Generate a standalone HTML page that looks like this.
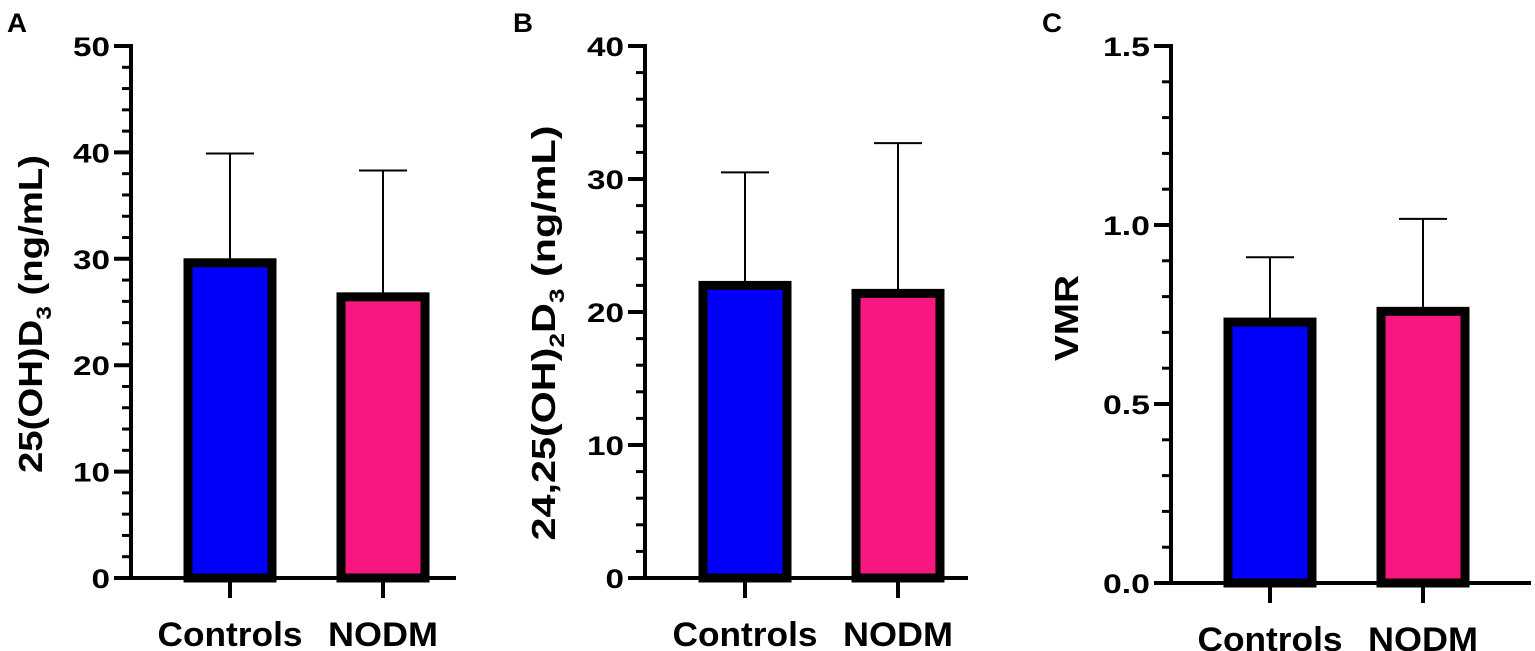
<!DOCTYPE html>
<html><head><meta charset="utf-8"><style>
html,body{margin:0;padding:0;background:#fff;}
svg{display:block;font-family:"Liberation Sans",Arial,sans-serif;font-weight:bold;}
</style></head><body>
<svg id="fig" width="1535" height="651" viewBox="0 0 1535 651" xmlns="http://www.w3.org/2000/svg"></svg>
<script>
const categories = ["Controls", "NODM"];
const colors = ["#0000fb", "#f8177f"];
const meansA = [30.0, 26.8];
const errA = [39.9, 38.3];
const meansB = [22.3, 21.7];
const errB = [30.5, 32.7];
const meansC = [0.74, 0.77];
const errC = [0.91, 1.017];
const ticksA = [0, 10, 20, 30, 40, 50];
const ticksB = [0, 10, 20, 30, 40];
const ticksC = ["0.0", "0.5", "1.0", "1.5"];

const NS = "http://www.w3.org/2000/svg";
const svg = document.getElementById("fig");
function mk(tag, attrs, parent) {
  const e = document.createElementNS(NS, tag);
  for (const k in attrs) e.setAttribute(k, attrs[k]);
  (parent || svg).appendChild(e);
  return e;
}
function labW(s) { let w = 0; for (const ch of s) w += (ch === "." ? 10 : 18.5); return w; }

function panel(cfg) {
  const g = mk("g", {});
  
  
  const y = v => cfg.y0 - v / cfg.max * (cfg.y0 - cfg.yTop);
  const L = mk("text", {x: cfg.letterX, y: 32, "font-size": 27, textLength: 20, lengthAdjust: "spacingAndGlyphs"}, g);
  L.textContent = cfg.letter;
  
  
  for (let v = 0; v <= cfg.max + 1e-9; v += cfg.minor) {
    const t = mk("line", {x1: cfg.ax - 9, x2: cfg.ax, y1: y(v), y2: y(v), stroke: "#000", "stroke-width": 3}, g);
    
    
  }
  cfg.ticks.forEach(tl => {
    const s = String(tl);
    const v = parseFloat(s);
    const t = mk("line", {x1: cfg.ax - 17, x2: cfg.ax, y1: y(v), y2: y(v), stroke: "#000", "stroke-width": 4}, g);
    
    
    const tx = mk("text", {x: cfg.ax - 21, y: y(v) + 10, "font-size": 27, "text-anchor": "end", textLength: labW(s), lengthAdjust: "spacingAndGlyphs"}, g);
    tx.textContent = s;
    
    
  });
  const ya = mk("line", {x1: cfg.ax, x2: cfg.ax, y1: cfg.yTop - 2, y2: cfg.y0 + 2, stroke: "#000", "stroke-width": 4}, g);
  
  
  categories.forEach((c, i) => {
    const cx = cfg.cx[i];
    const top = y(cfg.means[i]);
    const eb = mk("line", {x1: cx, x2: cx, y1: y(cfg.errs[i]), y2: top, stroke: "#000", "stroke-width": 2}, g);
    
    
    const cap = mk("line", {x1: cx - 24, x2: cx + 24, y1: y(cfg.errs[i]), y2: y(cfg.errs[i]), stroke: "#000", "stroke-width": 2}, g);
    
    
    const r = mk("rect", {x: cx - 42, y: top + 4, width: 84, height: cfg.y0 - top - 4, fill: colors[i], stroke: "#000", "stroke-width": 9}, g);
    
    
    const xt = mk("line", {x1: cx, x2: cx, y1: cfg.y0, y2: cfg.y0 + 20, stroke: "#000", "stroke-width": 4}, g);
    
    
    const xl = mk("text", {x: cx, y: cfg.y0 + 68, "font-size": 34, "text-anchor": "middle", textLength: (c === "Controls" ? 145 : 110), lengthAdjust: "spacingAndGlyphs"}, g);
    xl.textContent = c;
    
    
  });
  const xa = mk("line", {x1: cfg.ax - 17, x2: cfg.xEnd, y1: cfg.y0, y2: cfg.y0, stroke: "#000", "stroke-width": 4}, g);
  
  
  const yt = mk("text", {x: 0, y: 0, "font-size": 33, "text-anchor": "middle", textLength: cfg.titleLen, lengthAdjust: "spacingAndGlyphs", transform: `translate(${cfg.titleX},${cfg.titleY}) rotate(-90)`}, g);
  
  
  yt.innerHTML = cfg.title;
}

panel({name: "panel-a", letter: "A", letterX: 7, ax: 131, yTop: 46, y0: 578, max: 50, minor: 2, ticks: ticksA,
  cx: [230, 383], means: meansA, errs: errA, xEnd: 456, titleX: 42, titleY: 314, titleLen: 318,
  title: '25(OH)D<tspan font-size="21" dy="9">3</tspan><tspan dy="-9"> (ng/mL)</tspan>'});
panel({name: "panel-b", letter: "B", letterX: 513, ax: 645, yTop: 46, y0: 578, max: 40, minor: 2, ticks: ticksB,
  cx: [745, 898], means: meansB, errs: errB, xEnd: 968, titleX: 555, titleY: 333, titleLen: 415,
  title: '24,25(OH)<tspan font-size="21" dy="9">2</tspan><tspan dy="-9">D</tspan><tspan font-size="21" dy="9">3</tspan><tspan dy="-9">  (ng/mL)</tspan>'});
panel({name: "panel-c", letter: "C", letterX: 1042, ax: 1171, yTop: 46, y0: 583, max: 1.5, minor: 0.1, ticks: ticksC,
  cx: [1270, 1423], means: meansC, errs: errC, xEnd: 1531, titleX: 1078, titleY: 318, titleLen: 86,
  title: 'VMR'});
</script>
</body></html>
